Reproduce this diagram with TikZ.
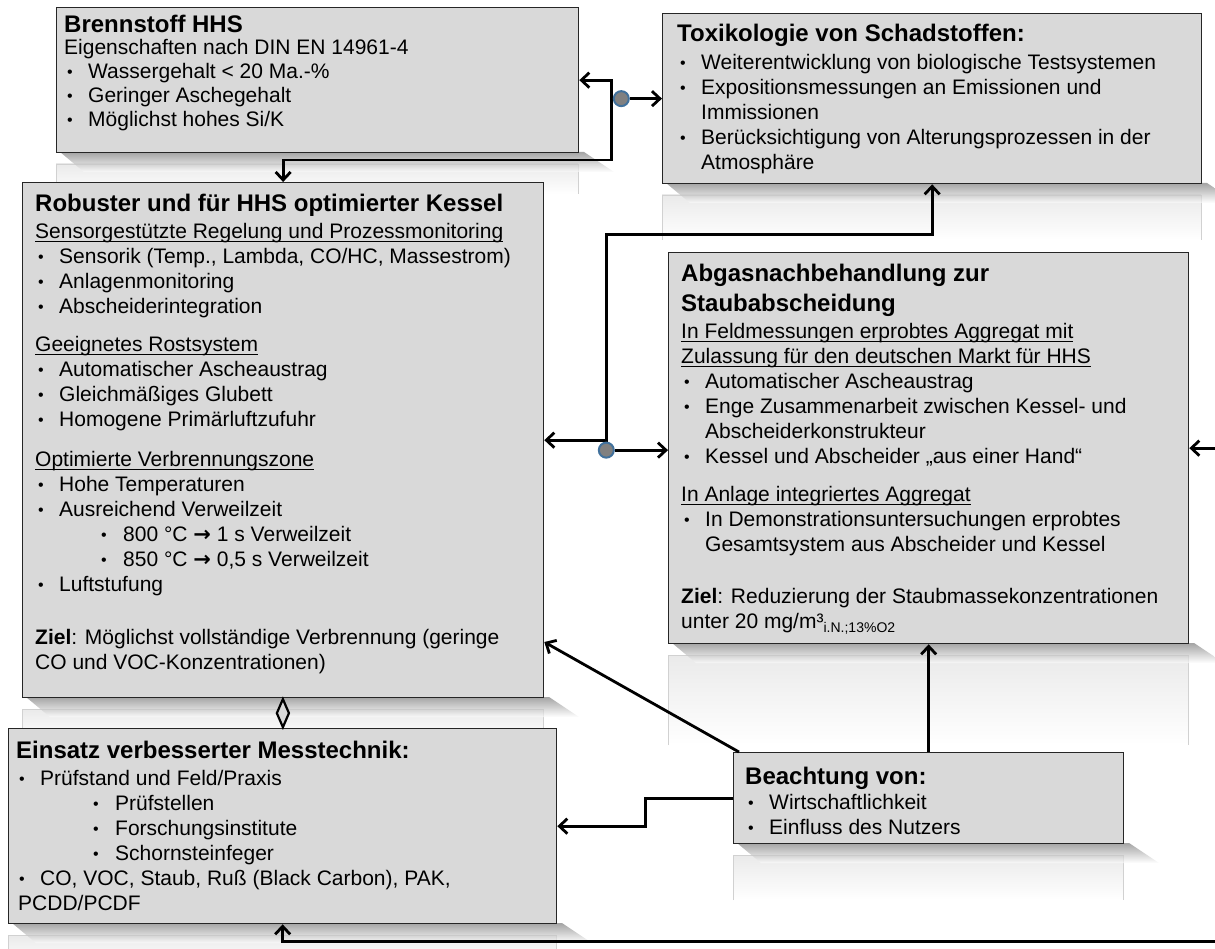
\documentclass[tikz,border=0pt]{standalone}
\usepackage{fontspec}
\setmainfont{Liberation Sans}
\newfontfamily\symf{DejaVu Sans}
\usetikzlibrary{arrows.meta,calc,shapes.geometric}
\definecolor{boxgray}{HTML}{D9D9D9}
\definecolor{reflgray}{HTML}{EAEAEA}
\definecolor{dotblue}{HTML}{41719C}
\definecolor{dotgray}{HTML}{808080}

\newcommand\Txt[2]{\begin{minipage}[t]{#1pt}\vspace{0pt}\fontsize{21}{25}\selectfont\setlength\parindent{0pt}\setlength\parskip{0pt}\setlength\lineskiplimit{-100pt}\setlength\lineskip{0pt}#2\end{minipage}}
\newcommand\Ttl[1]{{\fontsize{24}{30}\selectfont\bfseries\rule{0pt}{22pt}#1\par}}
\newcommand\Dt{\raisebox{1.2pt}{\fontsize{16}{16}\selectfont•}}
\newcommand\Bl[1]{\leavevmode\makebox[24pt][l]{\hspace{3pt}\Dt}#1\par}
\newcommand\Cl[1]{\leavevmode\hspace*{24pt}#1\par}
\newcommand\Sb[2][66]{\leavevmode\hspace*{#1pt}\makebox[22pt][l]{\Dt}#2\par}
\newcommand\Ul[1]{\leavevmode\sbox0{#1}\rlap{\rule[-3pt]{\wd0}{1.1pt}}\usebox0\par}
\newcommand\Pl[1]{\leavevmode#1\par}
\newcommand\Gp[1]{\vspace{#1pt}}
\newcommand\ShRe[4]{%
  \shade[top color=reflgray, bottom color=white] (#1,#3+12) rectangle (#2,#3+12+#4);
  \draw[black!18, line width=0.8pt] (#1,#3+12+#4) -- (#1,#3+12) -- (#2,#3+12) -- (#2,#3+12+#4);
  \shade[top color=black!55, bottom color=white, opacity=0.65] (#1+4,#3) -- (#2+6,#3) -- (#2+36,#3+20) -- (#1+28,#3+20) -- cycle;
}

\tikzset{
  box/.style={draw=black!85, line width=1.3pt, fill=boxgray, rectangle, anchor=north west, inner sep=0pt},
  txt/.style={anchor=north west, inner sep=0pt},
  conn/.style={line width=2.8pt, black},
  dot/.style={circle, fill=dotgray, draw=dotblue, line width=2pt, minimum size=15pt, inner sep=0pt},
  >={Straight Barb[length=8pt,width=15pt]}
}

\begin{document}
\begin{tikzpicture}[x=1pt,y=-1pt]
\useasboundingbox (0,0) rectangle (1215,949);
\clip (0,0) rectangle (1215,949);

% reflections and shadows
\ShRe{56}{578}{152}{30}
\ShRe{662}{1201}{183}{45}
\ShRe{22}{543}{697}{30}
\ShRe{668}{1188}{643}{90}
\ShRe{8}{556}{923}{30}
\ShRe{733}{1123}{843}{45}

% boxes
\node[box, minimum width=522pt, minimum height=145pt] (b1) at (56,7) {};
\node[box, minimum width=539pt, minimum height=170pt] (b2) at (662,13) {};
\node[box, minimum width=521pt, minimum height=515pt] (b3) at (22,182) {};
\node[box, minimum width=520pt, minimum height=391pt] (b4) at (668,252) {};
\node[box, minimum width=548pt, minimum height=195pt] (b5) at (8,728) {};
\node[box, minimum width=390pt, minimum height=91pt] (b6) at (733,752) {};

% texts
\node[txt] (t1) at (64,10.5) {\Txt{505}{%
\Ttl{Brennstoff HHS}\Gp{-3}
\Pl{Eigenschaften nach DIN EN 14961-4}\Gp{-1}
\Bl{Wassergehalt < 20 Ma.-\%}\Gp{-1}
\Bl{Geringer Aschegehalt}\Gp{-1}
\Bl{Möglichst hohes Si/K}}};

\node[txt] (t2) at (677,19.5) {\Txt{515}{%
\Ttl{Toxikologie von Schadstoffen:}\Gp{3}
\Bl{Weiterentwicklung von biologische Testsystemen}
\Bl{Expositionsmessungen an Emissionen und}
\Cl{Immissionen}
\Bl{Berücksichtigung von Alterungsprozessen in der}
\Cl{Atmosphäre}}};

\node[txt] (t3) at (35,189.5) {\Txt{505}{%
\Ttl{Robuster und für HHS optimierter Kessel}\Gp{2}
\Ul{Sensorgestützte Regelung und Prozessmonitoring}
\Bl{Sensorik (Temp., Lambda, CO/HC, Massestrom)}
\Bl{Anlagenmonitoring}
\Bl{Abscheiderintegration}\Gp{13}
\Ul{Geeignetes Rostsystem}
\Bl{Automatischer Ascheaustrag}
\Bl{Gleichmäßiges Glubett}
\Bl{Homogene Primärluftzufuhr}\Gp{15}
\Ul{Optimierte Verbrennungszone}
\Bl{Hohe Temperaturen}
\Bl{Ausreichend Verweilzeit}
\Sb{800 °C {\symf\bfseries →} 1 s Verweilzeit}
\Sb{850 °C {\symf\bfseries →} 0,5 s Verweilzeit}
\Bl{Luftstufung}\Gp{28}
\Pl{\textbf{Ziel}: Möglichst vollständige Verbrennung (geringe}
\Pl{CO und VOC-Konzentrationen)}}};

\node[txt] (t4) at (681,259.5) {\Txt{500}{%
\Ttl{Abgasnachbehandlung zur}
\Ttl{Staubabscheidung}\Gp{2}
\Ul{In Feldmessungen erprobtes Aggregat mit}
\Ul{Zulassung für den deutschen Markt für HHS}
\Bl{Automatischer Ascheaustrag}
\Bl{Enge Zusammenarbeit zwischen Kessel- und}
\Cl{Abscheiderkonstrukteur}
\Bl{Kessel und Abscheider „aus einer Hand“}\Gp{13}
\Ul{In Anlage integriertes Aggregat}
\Bl{In Demonstrationsuntersuchungen erprobtes}
\Cl{Gesamtsystem aus Abscheider und Kessel}\Gp{27}
\Pl{\textbf{Ziel}: Reduzierung der Staubmassekonzentrationen}
\Pl{unter 20 mg/m³\raisebox{-4pt}{\fontsize{14}{14}\selectfont i.N.;13\%O2}}}};

\node[txt] (t5) at (16,736.5) {\Txt{530}{%
\Ttl{Einsatz verbesserter Messtechnik:}\Gp{2}
\Bl{Prüfstand und Feld/Praxis}
\Sb[77]{Prüfstellen}
\Sb[77]{Forschungsinstitute}
\Sb[77]{Schornsteinfeger}
\Bl{CO, VOC, Staub, Ruß (Black Carbon), PAK,}
\Pl{\hspace*{2pt}PCDD/PCDF}}};

\node[txt] (t6) at (745,762.5) {\Txt{370}{%
\Ttl{Beachtung von:}
\Bl{Wirtschaftlichkeit}
\Bl{Einfluss des Nutzers}}};

% diamond between Kessel and Messtechnik
\node[draw, diamond, line width=2.2pt, fill=boxgray, minimum width=13pt, minimum height=29pt, inner sep=0pt] (dm) at ($(b3.south)!0.5!(b5.north)$) {};

% connectors
\draw[conn,<->] (b1.east) -- ++(32,0) |- ($(b3.north)+(0,-22)$) -- (b3.north);
\node[dot] (d1) at ($(b1.east)+(42,18.5)$) {};
\draw[conn,->] (d1) -- (d1 -| b2.west);

\draw[conn,<->] (b3.east) -- ++(62,0) |- ($(b2.south)+(0,50)$) -- (b2.south);
\node[dot] (d2) at ($(b3.east)+(62,10)$) {};
\draw[conn,->] (d2) -- (d2 -| b4.west);

\draw[conn,<->] (b4.east) -- ++(60,0) |- ($(b5.south)+(0,17)$) -- (b5.south);

\draw[conn,->] (b6.west) -| ($(b6.west)!0.5!(b5.east)$) |- (b5.east);
\draw[conn,->] (b6.north) -- (b4.south);
\draw[conn,->] ($(b6.north west)+(6,0)$) -- ($(b3.north east)!0.891!(b3.south east)$);
\end{tikzpicture}
\end{document}
